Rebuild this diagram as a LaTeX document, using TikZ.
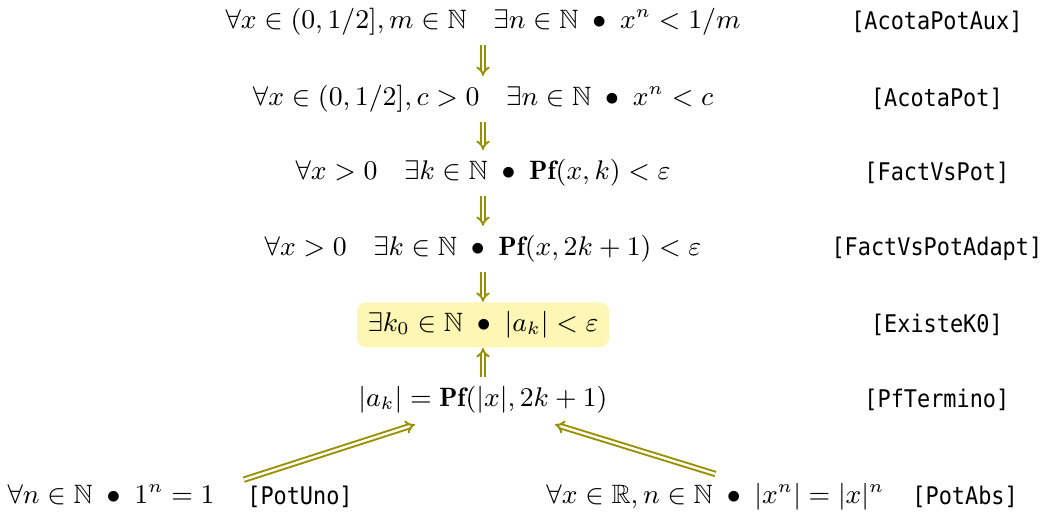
\documentclass[tikz,border=0pt]{standalone}
\usepackage{amssymb}
\usepackage{fontspec}
\newfontfamily\labelfont[FakeStretch=0.9]{DejaVu Sans Mono}
\usetikzlibrary{arrows.meta}
\definecolor{arrowolive}{RGB}{152,144,0}
\definecolor{hlyellow}{RGB}{253,246,180}
\begin{document}
\begin{tikzpicture}[x=1pt,y=1pt,
  stmt/.style={font=\fontsize{8.85}{11}\selectfont, inner xsep=0pt, inner ysep=3pt, text height=6.7pt, text depth=2.3pt},
  lbl/.style={font=\labelfont\fontsize{8.1}{10}\selectfont, inner sep=0pt},
  impl/.style={draw=arrowolive, double, double distance=0.8pt, line width=0.65pt, -{Implies}},
  hl/.style={fill=hlyellow, rounded corners=3pt, inner xsep=3.5pt}]
\useasboundingbox (0,0) rectangle (348,172);

\node[stmt] (r1) at (161,164.7) {$\forall x\in(0,1/2], m\in\mathbb{N}\quad \exists n\in\mathbb{N} \;\bullet\; x^n<1/m$};
\node[stmt] (r2) at (161,139) {$\forall x\in(0,1/2], c>0\quad \exists n\in\mathbb{N} \;\bullet\; x^n<c$};
\node[stmt] (r3) at (161,114.3) {$\forall x>0\quad \exists k\in\mathbb{N} \;\bullet\; \mathbf{Pf}(x,k)<\varepsilon$};
\node[stmt] (r4) at (161,89) {$\forall x>0\quad \exists k\in\mathbb{N} \;\bullet\; \mathbf{Pf}(x,2k+1)<\varepsilon$};
\node[stmt,hl] (r5) at (161,63.7) {$\exists k_0\in\mathbb{N} \;\bullet\; |a_k|<\varepsilon$};
\node[stmt] (r6) at (161,38.7) {$|a_k|=\mathbf{Pf}(|x|,2k+1)$};
\node[stmt] (uno) at (37,6.3) {$\forall n\in\mathbb{N} \;\bullet\; 1^n=1$};
\node[stmt] (abs) at (238.5,6.3) {$\forall x\in\mathbb{R}, n\in\mathbb{N} \;\bullet\; |x^n|=|x|^n$};

\node[lbl] (l1) at (312.3,164.7) {[AcotaPotAux]};
\node[lbl] (l2) at (312.3,139) {[AcotaPot]};
\node[lbl] (l3) at (312.3,114.3) {[FactVsPot]};
\node[lbl] (l4) at (312.3,89) {[FactVsPotAdapt]};
\node[lbl] (l5) at (312.3,63.7) {[ExisteK0]};
\node[lbl] (l6) at (312.3,38.7) {[PfTermino]};
\node[lbl] (l7) at (100,6.3) {[PotUno]};
\node[lbl] (l8) at (321.7,6.3) {[PotAbs]};

\draw[impl] (r1) -- (r2);
\draw[impl] (r2) -- (r3);
\draw[impl] (r3) -- (r4);
\draw[impl] (r4) -- (r5);
\draw[impl] (r6) -- (r5);
\draw[impl] ([xshift=-1pt,yshift=2pt]l7.north west) -- ([xshift=-22.7pt,yshift=-0.5pt]r6.south);
\draw[impl] (abs.north) -- ([xshift=24pt,yshift=-0.5pt]r6.south);
\end{tikzpicture}
\end{document}
